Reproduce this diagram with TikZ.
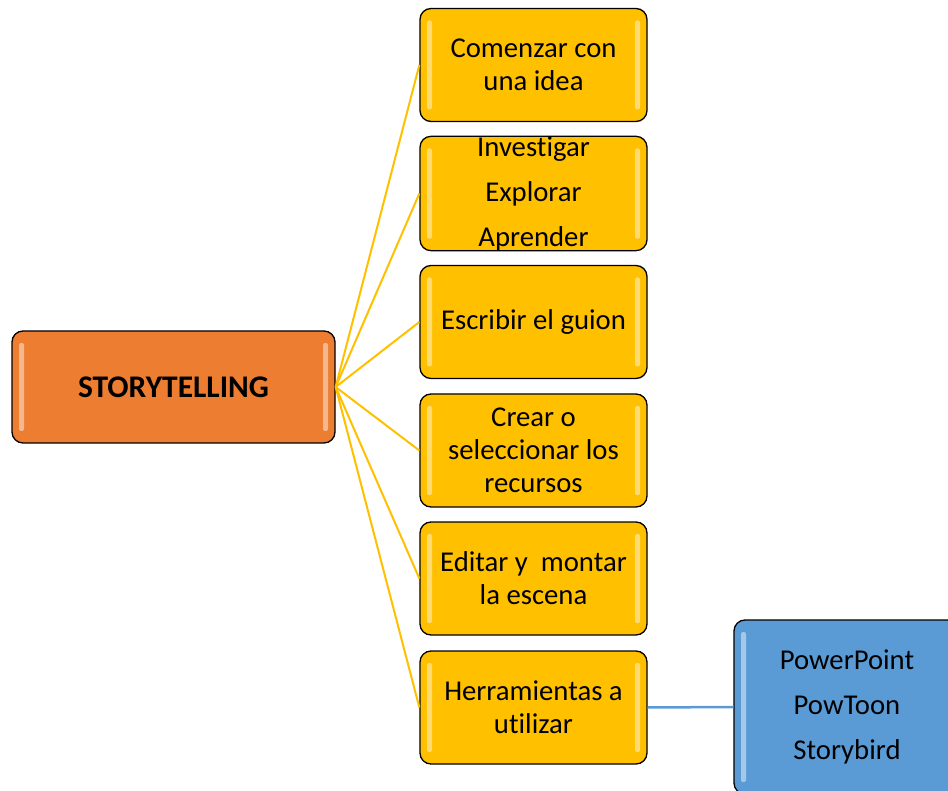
\documentclass[tikz,border=0pt]{standalone}
\usepackage{fontspec}
\setmainfont{Carlito}[Ligatures=NoCommon]
\definecolor{naranja}{HTML}{ED7D31}
\definecolor{amarillo}{HTML}{FFC000}
\definecolor{azul}{HTML}{5B9BD5}
\begin{document}
\begin{tikzpicture}[x=1pt,y=-1pt,
    caja/.style={draw=black,line width=1.3pt,rounded corners=11pt,inner sep=0pt,align=center,
      minimum width=227pt,minimum height=113pt,font=\fontsize{28.7}{33}\selectfont,
      path picture={
        \fill[white,opacity=.45,rounded corners=2pt] ([xshift=7pt,yshift=-12pt]path picture bounding box.north west) rectangle ([xshift=12pt,yshift=12pt]path picture bounding box.south west);
        \fill[white,opacity=.45,rounded corners=2pt] ([xshift=-12pt,yshift=-12pt]path picture bounding box.north east) rectangle ([xshift=-7pt,yshift=12pt]path picture bounding box.south east);}},
    paso/.style={caja,fill=amarillo},
    rama/.style={amarillo,line width=2pt}]
    \useasboundingbox (0,0) rectangle (948,791);

    \node[caja,fill=naranja,minimum width=323pt,minimum height=112pt,font=\fontsize{31.5}{36}\selectfont\bfseries] (story) at (173.5,387) {STORYTELLING};

    \node[paso] (idea) at (533.5,65) {Comenzar con\\una idea};
    \node[paso,font=\fontsize{28.7}{45}\selectfont] (investigar) at (533.5,193.5) {Investigar\\Explorar\\Aprender};
    \node[paso] (guion) at (533.5,322) {Escribir el guion};
    \node[paso] (recursos) at (533.5,450.5) {Crear o\\seleccionar los\\recursos};
    \node[paso] (escena) at (533.5,578.5) {Editar y\ \ montar\\la escena};
    \node[paso] (herramientas) at (533.5,707.5) {Herramientas a\\utilizar};

    \node[caja,fill=azul,minimum width=226pt,minimum height=174pt,font=\fontsize{28.7}{45}\selectfont] (apps) at (847,707) {PowerPoint\\PowToon\\Storybird};

    \foreach \destino in {idea,investigar,guion,recursos,escena,herramientas}
        \draw[rama] (story.east) -- (\destino.west);
    \draw[azul,line width=2.5pt] (herramientas.east) -- (apps.west);
\end{tikzpicture}
\end{document}
